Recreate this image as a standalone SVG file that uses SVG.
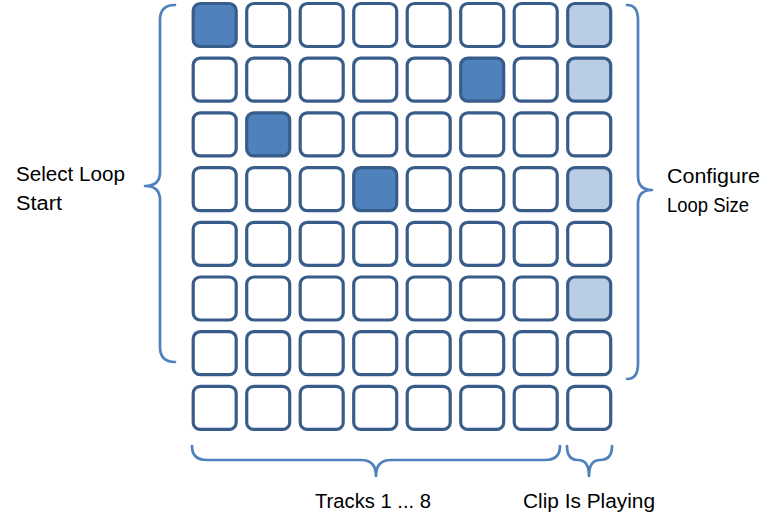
<svg xmlns="http://www.w3.org/2000/svg" width="778" height="522" viewBox="0 0 778 522">
<style>
.c{fill:#ffffff;stroke:#385D8A;stroke-width:3.2}
.d{fill:#4F81BD}
.l{fill:#B9CDE5}
.b{fill:none;stroke:#4F81BD;stroke-width:2.7;stroke-linecap:round;stroke-linejoin:round}
text{font-family:"Liberation Sans",Arial,sans-serif;font-size:20px;fill:#000000}
</style>
<rect width="778" height="522" fill="#ffffff"/>
<defs>
<rect id="cell" width="43" height="43" rx="7" ry="7"/>
</defs>
<g id="grid">
<g id="r0">
<use href="#cell" x="193.2" y="3.5" class="c d"/>
<use href="#cell" x="246.7" y="3.5" class="c"/>
<use href="#cell" x="300.2" y="3.5" class="c"/>
<use href="#cell" x="353.7" y="3.5" class="c"/>
<use href="#cell" x="407.2" y="3.5" class="c"/>
<use href="#cell" x="460.7" y="3.5" class="c"/>
<use href="#cell" x="514.2" y="3.5" class="c"/>
<use href="#cell" x="567.7" y="3.5" class="c l"/>
</g>
<g id="r1">
<use href="#cell" x="193.2" y="58.2" class="c"/>
<use href="#cell" x="246.7" y="58.2" class="c"/>
<use href="#cell" x="300.2" y="58.2" class="c"/>
<use href="#cell" x="353.7" y="58.2" class="c"/>
<use href="#cell" x="407.2" y="58.2" class="c"/>
<use href="#cell" x="460.7" y="58.2" class="c d"/>
<use href="#cell" x="514.2" y="58.2" class="c"/>
<use href="#cell" x="567.7" y="58.2" class="c l"/>
</g>
<g id="r2">
<use href="#cell" x="193.2" y="112.9" class="c"/>
<use href="#cell" x="246.7" y="112.9" class="c d"/>
<use href="#cell" x="300.2" y="112.9" class="c"/>
<use href="#cell" x="353.7" y="112.9" class="c"/>
<use href="#cell" x="407.2" y="112.9" class="c"/>
<use href="#cell" x="460.7" y="112.9" class="c"/>
<use href="#cell" x="514.2" y="112.9" class="c"/>
<use href="#cell" x="567.7" y="112.9" class="c"/>
</g>
<g id="r3">
<use href="#cell" x="193.2" y="167.6" class="c"/>
<use href="#cell" x="246.7" y="167.6" class="c"/>
<use href="#cell" x="300.2" y="167.6" class="c"/>
<use href="#cell" x="353.7" y="167.6" class="c d"/>
<use href="#cell" x="407.2" y="167.6" class="c"/>
<use href="#cell" x="460.7" y="167.6" class="c"/>
<use href="#cell" x="514.2" y="167.6" class="c"/>
<use href="#cell" x="567.7" y="167.6" class="c l"/>
</g>
<g id="r4">
<use href="#cell" x="193.2" y="222.3" class="c"/>
<use href="#cell" x="246.7" y="222.3" class="c"/>
<use href="#cell" x="300.2" y="222.3" class="c"/>
<use href="#cell" x="353.7" y="222.3" class="c"/>
<use href="#cell" x="407.2" y="222.3" class="c"/>
<use href="#cell" x="460.7" y="222.3" class="c"/>
<use href="#cell" x="514.2" y="222.3" class="c"/>
<use href="#cell" x="567.7" y="222.3" class="c"/>
</g>
<g id="r5">
<use href="#cell" x="193.2" y="277" class="c"/>
<use href="#cell" x="246.7" y="277" class="c"/>
<use href="#cell" x="300.2" y="277" class="c"/>
<use href="#cell" x="353.7" y="277" class="c"/>
<use href="#cell" x="407.2" y="277" class="c"/>
<use href="#cell" x="460.7" y="277" class="c"/>
<use href="#cell" x="514.2" y="277" class="c"/>
<use href="#cell" x="567.7" y="277" class="c l"/>
</g>
<g id="r6">
<use href="#cell" x="193.2" y="331.7" class="c"/>
<use href="#cell" x="246.7" y="331.7" class="c"/>
<use href="#cell" x="300.2" y="331.7" class="c"/>
<use href="#cell" x="353.7" y="331.7" class="c"/>
<use href="#cell" x="407.2" y="331.7" class="c"/>
<use href="#cell" x="460.7" y="331.7" class="c"/>
<use href="#cell" x="514.2" y="331.7" class="c"/>
<use href="#cell" x="567.7" y="331.7" class="c"/>
</g>
<g id="r7">
<use href="#cell" x="193.2" y="386.4" class="c"/>
<use href="#cell" x="246.7" y="386.4" class="c"/>
<use href="#cell" x="300.2" y="386.4" class="c"/>
<use href="#cell" x="353.7" y="386.4" class="c"/>
<use href="#cell" x="407.2" y="386.4" class="c"/>
<use href="#cell" x="460.7" y="386.4" class="c"/>
<use href="#cell" x="514.2" y="386.4" class="c"/>
<use href="#cell" x="567.7" y="386.4" class="c"/>
</g>
</g>
<g id="braces">
<path class="b" d="M175,5 Q160,5 160,20 L160,172 Q160,186 145,186 Q160,186 160,200 L160,347 Q160,362 175,362"/>
<path class="b" d="M627,5 Q638,5 638,20 L638,176 Q638,190 652,190 Q638,190 638,204 L638,364 Q638,379 627,379"/>
<path class="b" d="M192,446 Q192,460 207,460 L361,460 Q376,460 376,476 Q376,460 391,460 L545,460 Q560,460 560,446"/>
<path class="b" d="M567,446 Q567,460 578,460 Q589,460 589,476 Q589,460 600,460 Q612,460 612,446"/>
</g>
<g id="labels">
<text x="16" y="181" textLength="109" lengthAdjust="spacingAndGlyphs">Select Loop</text>
<text x="16" y="210" textLength="46" lengthAdjust="spacingAndGlyphs">Start</text>
<text x="667" y="183" textLength="93" lengthAdjust="spacingAndGlyphs">Configure</text>
<text x="667" y="212" textLength="82" lengthAdjust="spacingAndGlyphs">Loop Size</text>
<text x="315" y="508" textLength="116" lengthAdjust="spacingAndGlyphs">Tracks 1 ... 8</text>
<text x="523" y="508" textLength="132" lengthAdjust="spacingAndGlyphs">Clip Is Playing</text>
</g>
</svg>
